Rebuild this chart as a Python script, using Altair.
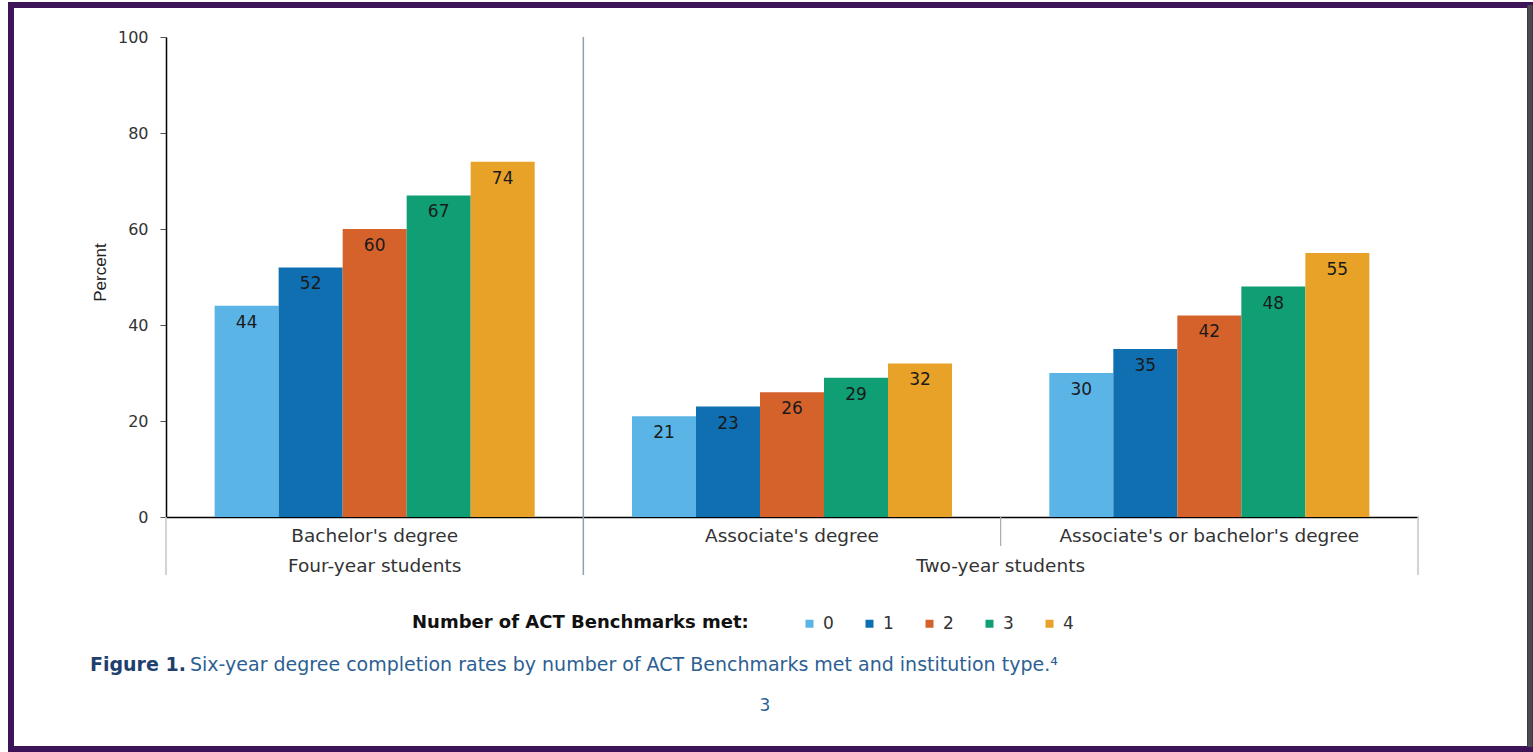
import altair as alt
import pandas as pd

# ---- data -------------------------------------------------------------
groups = ["Bachelor's degree", "Associate's degree", "Associate's or bachelor's degree"]
benchmarks = ["0", "1", "2", "3", "4"]
bachelor = [44, 52, 60, 67, 74]
associate = [21, 23, 26, 29, 32]
assoc_or_bach = [30, 35, 42, 48, 55]
colors = ["#5bb4e6", "#0f6fb1", "#d5622b", "#109e75", "#e8a227"]
student_types = ["Four-year students", "Two-year students"]
y_ticks = [0, 20, 40, 60, 80, 100]
legend_title = "Number of ACT Benchmarks met:"
caption_bold = "Figure 1."
caption_rest = "Six-year degree completion rates by number of ACT Benchmarks met and institution type.\u2074"
page_number = "3"

rows = []
for g, vals in zip(groups, [bachelor, associate, assoc_or_bach]):
    for b, v in zip(benchmarks, vals):
        rows.append({"group": g, "bench": b, "value": v})
df = pd.DataFrame(rows)

FONT = "DejaVu Sans"
xscale = alt.Scale(domain=groups, paddingInner=0, paddingOuter=0)
xaxis = alt.Axis(labels=False, ticks=False, title=None, domainColor="black",
                 domainWidth=1.5, grid=False)


def xenc(band=0.5):
    return alt.X("group:N", scale=xscale, axis=xaxis, bandPosition=band)


one = alt.Data(values=[{}])
offset = alt.XOffset("bench:N", scale=alt.Scale(domain=benchmarks, paddingInner=0, paddingOuter=0.76))

bars = alt.Chart(df).mark_bar().encode(
    x=xenc(),
    xOffset=offset,
    y=alt.Y("value:Q", scale=alt.Scale(domain=[0, 100], nice=False),
            axis=alt.Axis(values=y_ticks, grid=False, domainColor="black", domainWidth=1.5,
                          tickColor="#555", tickSize=6, labelFont=FONT, labelFontSize=16,
                          labelColor="#333", labelPadding=12, title="Percent",
                          titleFont="Liberation Sans", titleFontSize=17, titleFontWeight="normal",
                          titleColor="#222", titleX=-66, titleY=235, titleAngle=-90,
                          titleAlign="center", titleBaseline="middle")),
    color=alt.Color("bench:N", scale=alt.Scale(domain=benchmarks, range=colors),
                    legend=alt.Legend(title=legend_title, orient="none", legendX=246, legendY=578,
                                      direction="horizontal", titleOrient="left",
                                      titleFont=FONT, titleFontSize=18, titleFontWeight="bold",
                                      titleColor="#111", titlePadding=52, titleLimit=600,
                                      labelFont=FONT, labelFontSize=17, labelColor="#333",
                                      symbolType="square", symbolSize=64, symbolStrokeWidth=0,
                                      columnPadding=27, labelOffset=5)),
)

labels = alt.Chart(df).mark_text(dy=17, baseline="middle", font=FONT, fontSize=17,
                                 color="#1a1a1a").encode(
    x=xenc(),
    xOffset=offset,
    y=alt.Y("value:Q"),
    text=alt.Text("value:Q"),
)

gdf = pd.DataFrame({"group": groups})
group_labels = alt.Chart(gdf).mark_text(baseline="middle", font=FONT, fontSize=18.5,
                                        color="#333").encode(
    x=xenc(), y=alt.value(499), text="group:N")

four = alt.Chart(pd.DataFrame({"group": [groups[0]], "label": [student_types[0]]})).mark_text(
    baseline="middle", font=FONT, fontSize=18.5, color="#333").encode(
    x=xenc(0.5), y=alt.value(529), text="label:N")
two = alt.Chart(pd.DataFrame({"group": [groups[2]], "label": [student_types[1]]})).mark_text(
    baseline="middle", font=FONT, fontSize=18.5, color="#333").encode(
    x=xenc(0), y=alt.value(529), text="label:N")

divider_tall = alt.Chart(pd.DataFrame({"group": [groups[1]]})).mark_rule(
    color="#8fa0b6", strokeWidth=1.5).encode(x=xenc(0), y=alt.value(0), y2=alt.value(538))
divider_left = alt.Chart(pd.DataFrame({"group": [groups[0]]})).mark_rule(
    color="#c4c4c4", strokeWidth=1.5).encode(x=xenc(0), y=alt.value(480), y2=alt.value(538))
divider_right = alt.Chart(pd.DataFrame({"group": [groups[2]]})).mark_rule(
    color="#c4c4c4", strokeWidth=1.5).encode(x=xenc(1), y=alt.value(480), y2=alt.value(538))
divider_mid = alt.Chart(pd.DataFrame({"group": [groups[2]]})).mark_rule(
    color="#aaaaaa", strokeWidth=1.2).encode(x=xenc(0), y=alt.value(480), y2=alt.value(509))

cap1 = alt.Chart(one).mark_text(align="left", baseline="middle", font=FONT, fontSize=19,
                                fontWeight="bold", color="#1f3f6e").encode(
    x=alt.value(-76), y=alt.value(628), text=alt.value(caption_bold))
cap2 = alt.Chart(one).mark_text(align="left", baseline="middle", font=FONT, fontSize=19,
                                color="#2d5f93").encode(
    x=alt.value(24), y=alt.value(628), text=alt.value(caption_rest))
page = alt.Chart(one).mark_text(align="center", baseline="middle", font=FONT, fontSize=17,
                                color="#2d5f93").encode(
    x=alt.value(599), y=alt.value(669), text=alt.value(page_number))

frame = alt.Chart(one).mark_rect(fillOpacity=0, stroke="#3d1457", strokeWidth=6).encode(
    x=alt.value(11 - 166), x2=alt.value(1530 - 166), y=alt.value(5 - 37), y2=alt.value(749 - 37))
frame_right = alt.Chart(one).mark_rule(color="#4a4a4f", strokeWidth=5).encode(
    x=alt.value(1530 - 166), y=alt.value(5 - 37), y2=alt.value(747 - 37))

chart = alt.layer(
    bars, labels, group_labels, four, two,
    divider_tall, divider_left, divider_right, divider_mid,
    cap1, cap2, page, frame, frame_right,
).properties(
    width=1252, height=480,
    padding={"left": 166, "top": 37, "right": 115, "bottom": 235},
    autosize=alt.AutoSizeParams(type="none"),
    background="white",
).configure_view(stroke=None)

chart.save("out.html", embed_options={"renderer": "svg", "actions": False})
